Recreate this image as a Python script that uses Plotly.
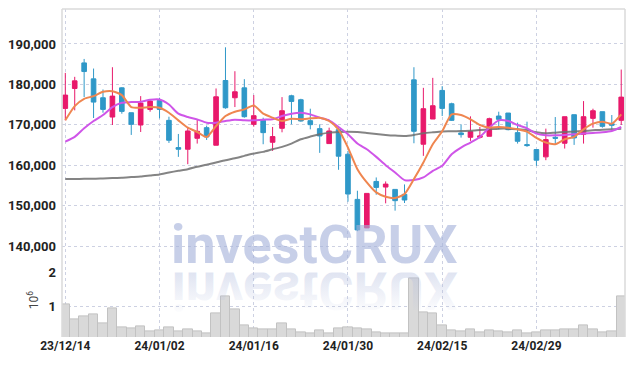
import base64
import plotly.graph_objects as go

dates = ["23/12/14","23/12/15","23/12/18","23/12/19","23/12/20","23/12/21","23/12/22","23/12/26","23/12/27","23/12/28",
         "24/01/02","24/01/03","24/01/04","24/01/05","24/01/08","24/01/09","24/01/10","24/01/11","24/01/12","24/01/15",
         "24/01/16","24/01/17","24/01/18","24/01/19","24/01/22","24/01/23","24/01/24","24/01/25","24/01/26","24/01/29",
         "24/01/30","24/01/31","24/02/01","24/02/02","24/02/05","24/02/06","24/02/07","24/02/08","24/02/13","24/02/14",
         "24/02/15","24/02/16","24/02/19","24/02/20","24/02/21","24/02/22","24/02/23","24/02/26","24/02/27","24/02/28",
         "24/02/29","24/03/04","24/03/05","24/03/06","24/03/07","24/03/08","24/03/11","24/03/12","24/03/13","24/03/14"]

open_ = [174060,178990,185320,181370,176690,171920,179150,172990,169950,173810,
         176030,171100,164360,163950,166660,169290,164940,180960,176690,179150,
         170110,171100,165680,169130,177180,176200,171020,169050,165350,168800,
         162720,151540,144480,155980,154590,154010,152780,181130,165190,171430,
         178500,175210,167980,166910,166910,167160,172170,172910,168060,165100,
         163870,162060,166910,165430,172500,167650,171590,173240,170280,171100]
high = [182850,181870,186300,183920,178740,184250,179300,172990,177100,176280,
        176690,172000,167730,169460,171350,169790,178990,189180,183260,181290,
        177350,171760,169460,176850,177430,176440,173980,170110,169290,169460,
        163540,153680,153020,156970,155980,154010,155240,184250,179150,181620,
        179560,175460,170110,172090,169460,171760,173240,172910,170530,170770,
        163870,169050,171920,172000,172500,175870,173980,173240,172420,183670]
low = [171100,173570,176850,171680,172990,169950,172740,167490,168220,173240,
       171590,165510,162060,160250,165350,166250,164940,173980,174390,171760,
       169540,165190,163540,168140,170110,170770,168880,163050,165350,158860,
       150970,143660,144480,152690,150560,148750,150640,165430,162310,171430,
       172170,170940,166830,166010,166580,167160,168880,168630,165350,164530,
       159840,161240,165020,164120,165020,165350,169290,169290,168880,169950]
close = [177350,180880,183180,175620,173810,177100,173320,170110,175370,175870,
         173810,166170,163950,168470,168390,166990,176930,174220,178170,172000,
         172250,168060,167080,173480,175780,170940,170030,167240,168470,162230,
         152860,143980,153020,154500,155320,151220,151380,168390,173980,174720,
         174060,171100,167570,168310,167240,171510,171350,168800,165920,164860,
         161240,166340,166660,172000,166750,172000,173480,169620,169870,176850]

ma5 = [171100,174630,176440,177100,178170,178330,177350,174390,174220,174390,
       174220,172990,171100,169290,168220,166990,169710,172170,173240,173810,
       174800,172740,171760,170940,171510,171350,171590,171760,170940,168800,
       164360,159020,155740,153270,152200,151870,152860,156560,160670,165190,
       168400,172580,172420,171350,169950,169290,169460,169290,168880,168310,
       166750,165600,165190,166420,166990,168880,170280,170770,170280,172580]
ma10 = [165840,167000,169130,170940,172420,174390,175460,175620,175700,176200,
        176280,175040,172740,171920,171350,170530,170530,170940,171270,171100,
        171100,171270,171350,172170,172740,172990,172580,171760,171100,169460,
        167650,165350,163950,162060,160010,158200,156310,156310,156970,158610,
        159840,162720,164360,165600,166990,169290,171100,170940,169950,169130,
        167820,167400,167400,167490,167650,167820,167980,168140,168470,169460]
ma60 = [156560,156560,156640,156640,156720,156800,156890,157050,157210,157460,
        157710,158200,158610,159020,159600,160090,160670,161240,161730,162310,
        162880,163300,163950,164530,165350,166420,167080,167650,168060,168220,
        168300,168220,167980,167730,167490,167320,167240,167490,167900,168140,
        168350,168390,168470,168550,168720,168880,169050,169050,168880,168630,
        168140,167900,168060,168220,168310,168470,168640,168800,168880,169050]

volume = [1050000,610000,710000,760000,510000,930000,370000,340000,400000,260000,
          290000,390000,260000,330000,260000,200000,800000,1280000,900000,430000,
          340000,310000,310000,490000,310000,250000,200000,290000,210000,340000,
          390000,360000,310000,230000,200000,200000,200000,1830000,830000,780000,
          450000,280000,270000,310000,240000,300000,260000,230000,280000,200000,
          250000,280000,300000,330000,310000,450000,310000,240000,260000,1280000]

price_ticks = [140000,150000,160000,170000,180000,190000]
vol_ticks = [1000000,2000000]
vol_ticktext = ["1","2"]
x_ticks = dates[::10]
watermark = "investCRUX"

UP = "#e8196b"
DOWN = "#2f98c8"
tick_font = dict(family="Roboto", size=13, color="#222222", weight="bold")
grid = dict(showgrid=True, gridcolor="#cdd1e2", griddash="dot", gridwidth=1, zeroline=False, automargin=False)

fig = go.Figure()
fig.add_trace(go.Candlestick(x=dates, open=open_, high=high, low=low, close=close,
                             increasing=dict(line=dict(color=UP, width=1), fillcolor=UP),
                             decreasing=dict(line=dict(color=DOWN, width=1), fillcolor=DOWN),
                             whiskerwidth=0, xaxis="x", yaxis="y", showlegend=False))
fig.add_trace(go.Scatter(x=dates, y=ma60, mode="lines", line=dict(color="rgba(110,110,110,0.85)", width=2, shape="spline", smoothing=0.6),
                         xaxis="x", yaxis="y", showlegend=False))
fig.add_trace(go.Scatter(x=dates, y=ma10, mode="lines", line=dict(color="#cf55e8", width=2, shape="spline", smoothing=0.6),
                         xaxis="x", yaxis="y", showlegend=False))
fig.add_trace(go.Scatter(x=dates, y=ma5, mode="lines", line=dict(color="#ef8650", width=2, shape="spline", smoothing=0.6),
                         xaxis="x", yaxis="y", showlegend=False))
fig.add_trace(go.Bar(x=dates, y=volume, marker=dict(color="#d9d9d9", line=dict(color="#c2c2c2", width=1)),
                     xaxis="x2", yaxis="y2", showlegend=False))

VD = 0.197
PW, PH = 563.0, 328.0

# mirrored reflection of the watermark
svg = ('<svg xmlns="http://www.w3.org/2000/svg" width="340" height="50" viewBox="0 0 340 50">'
       '<defs><linearGradient id="g" gradientUnits="userSpaceOnUse" x1="0" y1="0" x2="0" y2="-40">'
       '<stop offset="0" stop-color="rgb(180,190,222)" stop-opacity="0.42"/>'
       '<stop offset="1" stop-color="rgb(180,190,222)" stop-opacity="0.03"/></linearGradient></defs>'
       '<g transform="scale(1,-1)"><text x="170" y="0" text-anchor="middle" font-family="Roboto" font-weight="bold" '
       'font-size="54" fill="url(#g)">' + watermark + '</text></g></svg>')
svg_uri = "data:image/svg+xml;base64," + base64.b64encode(svg.encode()).decode()

# the page places the figure 8px in from the top-left corner, so the figure is sized to fit the window
fig.update_layout(
    width=626, height=358,
    margin=dict(l=54, r=9, t=1, b=29, autoexpand=False),
    paper_bgcolor="white", plot_bgcolor="white",
    bargap=0,
    xaxis=dict(type="category", domain=[0, 1], anchor="y", range=[-0.35, 59.4], tickvals=x_ticks,
               showticklabels=False, rangeslider=dict(visible=False), ticks="", **grid),
    xaxis2=dict(type="category", domain=[0, 1], anchor="y2", matches="x", range=[-0.35, 59.4], tickvals=x_ticks,
                ticktext=x_ticks, tickfont=dict(tick_font, size=12), ticks="", **grid),
    yaxis=dict(domain=[VD, 1], range=[133470, 198660], tickvals=price_ticks, tickformat=",",
               tickfont=tick_font, ticks="", ticklabelstandoff=5, **grid),
    yaxis2=dict(domain=[0, VD], range=[100000, 2000000], tickvals=vol_ticks, ticktext=vol_ticktext,
                tickfont=tick_font, ticks="", ticklabelstandoff=5, **grid),
    shapes=[
        dict(type="line", xref="paper", yref="paper", x0=0, x1=1, y0=1, y1=1, line=dict(color="#dadada", width=1.5)),
        dict(type="line", xref="paper", yref="paper", x0=0, x1=0, y0=0, y1=1, line=dict(color="#dadada", width=1.5)),
        dict(type="line", xref="paper", yref="paper", x0=1, x1=1, y0=0, y1=1, line=dict(color="#dadada", width=1.5)),
    ],
    images=[dict(source=svg_uri, xref="paper", yref="paper", x=0.449, y=VD, xanchor="center", yanchor="top",
                 sizex=340 / PW, sizey=50 / PH, sizing="stretch", layer="above")],
    annotations=[
        dict(text=watermark, xref="paper", yref="paper", x=0.449, y=VD - 0.016, xanchor="center", yanchor="bottom",
             showarrow=False, font=dict(family="Roboto", size=54, color="rgba(165,177,218,0.62)", weight="bold")),
        dict(text="10<sup>6</sup>", xref="paper", yref="paper", x=-0.052, y=0.114, xanchor="center", yanchor="middle",
             textangle=-90, showarrow=False, font=dict(family="Roboto", size=12, color="#444")),
    ],
)
fig.write_html("out.html")
